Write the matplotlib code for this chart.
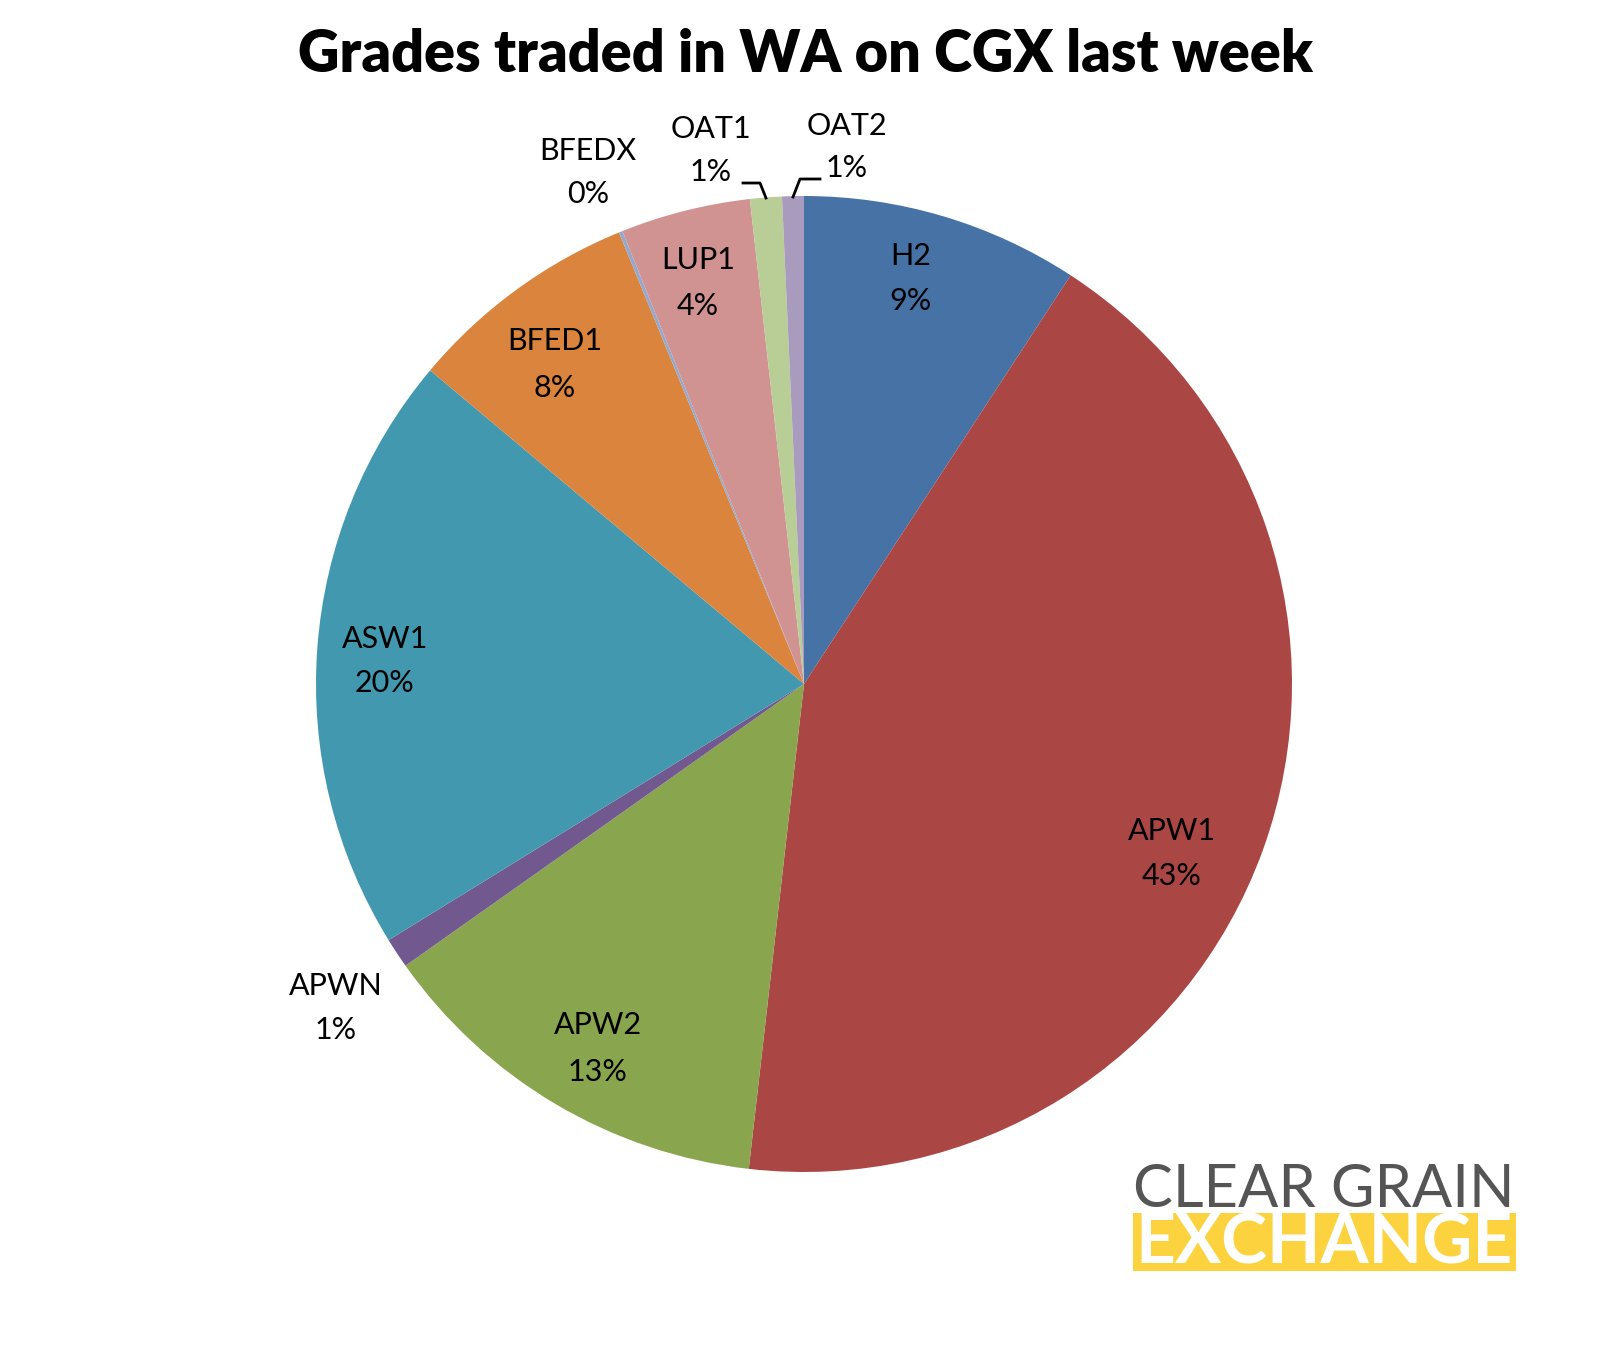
import matplotlib
matplotlib.use("Agg")
import matplotlib.pyplot as plt
import numpy as np

# ---- data ----
grades = ["H2", "APW1", "APW2", "APWN", "ASW1", "BFED1", "BFEDX", "LUP1", "OAT1", "OAT2"]
shares = [9.2, 42.6, 13.4, 1.0, 19.9, 7.7, 0.12, 4.3, 1.05, 0.72]
colors = ["#4672A6", "#AA4644", "#89A54E", "#71588F", "#4198AF",
          "#DB843D", "#93A9CF", "#D19392", "#B9CD96", "#A99BBD"]
title = "Grades traded in WA on CGX last week"

# label line-centre positions (pixels in figure, y from top)
label_x = [911, 1172, 598, 336, 385, 555, 588, 698, 711, 847]
label_y1 = [254, 829, 1023, 984, 637, 339, 149, 258, 127, 124]
label_y2 = [299, 874, 1070, 1028, 681, 386, 192, 304, 170, 166]

W, H = 1608, 1351
fig = plt.figure(figsize=(W / 100, H / 100), dpi=100)
fig.patch.set_facecolor("white")

cx, cy, r = 804, 684, 488
ax = fig.add_axes([(cx - r) / W, (H - cy - r) / H, 2 * r / W, 2 * r / H])
ax.pie(shares, colors=colors, startangle=90, counterclock=False, radius=1,
       wedgeprops=dict(linewidth=0))
ax.set_xlim(-1, 1)
ax.set_ylim(-1, 1)
ax.axis("off")

# overlay axes in pixel coords for text
ov = fig.add_axes([0, 0, 1, 1], facecolor="none")
ov.set_xlim(0, W)
ov.set_ylim(H, 0)
ov.axis("off")

FONT = "Lato"
total = sum(shares)
cap = 22
fs = 22
for g, v, x, y1, y2 in zip(grades, shares, label_x, label_y1, label_y2):
    pct = f"{round(v / total * 100):.0f}%"
    ov.text(x, y1 + cap / 2, g, ha="center", va="baseline", fontsize=fs,
            family=FONT, color="black")
    ov.text(x, y2 + cap / 2, pct, ha="center", va="baseline", fontsize=fs,
            family=FONT, color="black")

# leader lines for OAT1 / OAT2
ov.plot([743, 760, 766], [183, 183, 198], color="black", lw=2.0)
ov.plot([820, 800, 793], [179, 179, 197], color="black", lw=2.0)

fig.canvas.draw()
renderer = fig.canvas.get_renderer()


def fit_text(x0, x1, y, s, size, **kw):
    t = ov.text((x0 + x1) / 2, y, s, ha="center", va="baseline", fontsize=size, **kw)
    bb = t.get_window_extent(renderer)
    t.set_fontsize(size * (x1 - x0) / bb.width)
    return t


fit_text(297, 1313, 72, title, 40, family=FONT, weight="heavy", color="black")

# logo
ov.add_patch(plt.Rectangle((1133, 1213), 383, 58, color="#FDD23F", lw=0))
fit_text(1134, 1514, 1207, "CLEAR GRAIN", 30, family=FONT, weight="normal",
         color="#555555")
fit_text(1136, 1513, 1263, "EXCHANGE", 30, family=FONT, weight="bold",
         color="white")

fig.savefig("out.png", dpi=100, facecolor="white")
